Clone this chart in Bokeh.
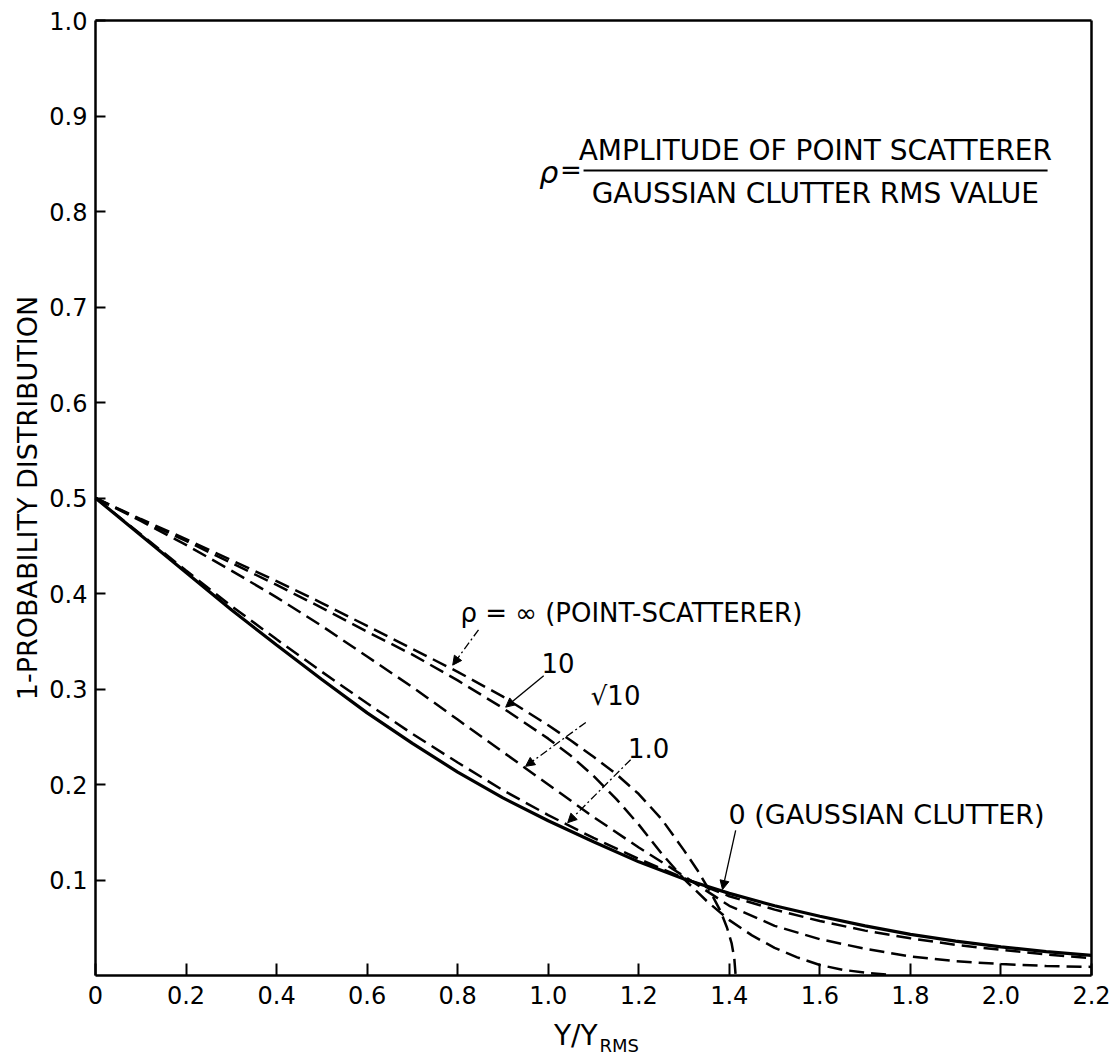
import math
from bokeh.plotting import figure
from bokeh.models import Range1d, FixedTicker, Label, Arrow, NormalHead, LinearAxis
from bokeh.embed import file_html
from bokeh.resources import INLINE

# ---- data ----
x_tick_vals = [0, 0.2, 0.4, 0.6, 0.8, 1.0, 1.2, 1.4, 1.6, 1.8, 2.0, 2.2]
x_tick_text = ["0", "0.2", "0.4", "0.6", "0.8", "1.0", "1.2", "1.4", "1.6", "1.8", "2.0", "2.2"]
y_tick_vals = [0.1, 0.2, 0.3, 0.4, 0.5, 0.6, 0.7, 0.8, 0.9, 1.0]
y_tick_text = ["0.1", "0.2", "0.3", "0.4", "0.5", "0.6", "0.7", "0.8", "0.9", "1.0"]

# rho = 0 (Gaussian clutter), solid
x_gauss = [0, 0.1, 0.2, 0.3, 0.4, 0.5, 0.6, 0.7, 0.8, 0.9, 1.0, 1.1, 1.2, 1.3, 1.4,
           1.5, 1.6, 1.7, 1.8, 1.9, 2.0, 2.1, 2.2]
y_gauss = [0.500, 0.461, 0.422, 0.383, 0.346, 0.310, 0.275, 0.243, 0.213, 0.186, 0.162,
           0.140, 0.119, 0.101, 0.086, 0.073, 0.062, 0.052, 0.043, 0.036, 0.030, 0.025, 0.021]

# rho = 1.0
x_rho1 = [0, 0.1, 0.2, 0.3, 0.4, 0.5, 0.6, 0.7, 0.8, 0.9, 1.0, 1.1, 1.2, 1.3, 1.4,
          1.5, 1.6, 1.7, 1.8, 1.9, 2.0, 2.1, 2.2]
y_rho1 = [0.500, 0.462, 0.424, 0.387, 0.352, 0.318, 0.285, 0.253, 0.223, 0.194, 0.168,
          0.144, 0.122, 0.102, 0.083, 0.069, 0.057, 0.047, 0.039, 0.032, 0.027, 0.022, 0.018]

# rho = sqrt(10)
x_rho_s10 = [0, 0.1, 0.2, 0.3, 0.4, 0.5, 0.6, 0.7, 0.8, 0.9, 1.0, 1.1, 1.2, 1.3, 1.4,
             1.5, 1.6, 1.7, 1.8, 1.9, 2.0, 2.1, 2.2]
y_rho_s10 = [0.500, 0.476, 0.451, 0.424, 0.396, 0.366, 0.334, 0.302, 0.268, 0.234, 0.200,
             0.166, 0.134, 0.104, 0.073, 0.052, 0.038, 0.028, 0.020, 0.015, 0.012, 0.010, 0.009]

# rho = 10
x_rho10 = [0, 0.1, 0.2, 0.3, 0.4, 0.5, 0.6, 0.7, 0.8, 0.9, 1.0, 1.05, 1.1, 1.15, 1.2,
           1.25, 1.3, 1.35, 1.4, 1.45, 1.5, 1.55, 1.6, 1.65, 1.7, 1.75]
y_rho10 = [0.500, 0.477, 0.455, 0.432, 0.409, 0.385, 0.360, 0.336, 0.309, 0.280, 0.248,
           0.230, 0.209, 0.185, 0.158, 0.128, 0.101, 0.078, 0.058, 0.042, 0.029, 0.019,
           0.011, 0.006, 0.003, 0.001]

# rho = infinity (point scatterer)
x_inf = [0, 0.1, 0.2, 0.3, 0.4, 0.5, 0.6, 0.7, 0.8, 0.9, 1.0, 1.05, 1.1, 1.15, 1.2, 1.25,
         1.3, 1.33, 1.36, 1.38, 1.395, 1.405, 1.411, 1.414]
y_inf = [0.500, 0.478, 0.457, 0.435, 0.413, 0.390, 0.366, 0.342, 0.318, 0.292, 0.262,
         0.246, 0.229, 0.211, 0.190, 0.164, 0.131, 0.110, 0.086, 0.068, 0.050, 0.034, 0.018, 0.0]

FONT = "DejaVu Sans"
W, H = 1117, 1057
# frame covers the whole canvas; plot box is px 95..1091 (x) and 975..20 (y)
PX_X = (1091 - 95) / 2.2
PX_Y = 955.0

p = figure(frame_width=W, frame_height=H, output_backend="svg", toolbar_location=None,
           x_range=Range1d(-95 / PX_X, (W - 95) / PX_X),
           y_range=Range1d(-(H - 975) / PX_Y, 975 / PX_Y),
           min_border_left=0, min_border_right=0, min_border_top=0, min_border_bottom=0,
           background_fill_color="white", border_fill_color="white")
p.xgrid.grid_line_color = None
p.ygrid.grid_line_color = None
p.outline_line_color = None

xa = p.xaxis[0]
ya = p.yaxis[0]
for ax in (xa, ya):
    ax.axis_line_width = 2.5
    ax.axis_line_color = "black"
    ax.major_tick_line_width = 2
    ax.major_tick_line_color = "black"
    ax.major_tick_out = 0
    ax.minor_tick_line_color = None
    ax.major_label_text_font = FONT
    ax.major_label_text_font_size = "24px"
    ax.major_label_text_color = "black"
    ax.fixed_location = 0

xa.bounds = (0, 2.2)
xa.ticker = FixedTicker(ticks=x_tick_vals)
xa.major_label_overrides = {v: t for v, t in zip(x_tick_vals, x_tick_text)}
xa.major_tick_in = 12
xa.major_label_standoff = 10

ya.bounds = (0, 1.0)
ya.ticker = FixedTicker(ticks=y_tick_vals)
ya.major_label_overrides = {v: t for v, t in zip(y_tick_vals, y_tick_text)}
ya.major_tick_in = 10
ya.major_label_standoff = 8

# frame lines on top and right as bare axes
for loc, side, bnds in ((2.2, "right", (0, 1.0)), (1.0, "above", (0, 2.2))):
    a = LinearAxis(fixed_location=loc, bounds=bnds, axis_line_width=2.5, axis_line_color="black",
                   major_tick_line_color=None, minor_tick_line_color=None,
                   major_label_text_font_size="0px", ticker=FixedTicker(ticks=[]))
    p.add_layout(a, side)

DASH = "15 7"
p.line(x_gauss, y_gauss, line_color="black", line_width=3.2)
p.line(x_rho1, y_rho1, line_color="black", line_width=2.5, line_dash=DASH)
p.line(x_rho_s10, y_rho_s10, line_color="black", line_width=2.5, line_dash=DASH)
p.line(x_rho10, y_rho10, line_color="black", line_width=2.5, line_dash=DASH)
p.line(x_inf, y_inf, line_color="black", line_width=2.5, line_dash=DASH)


def lab(x, y, t, size="26px", style="normal", align="left", baseline="middle", angle=0):
    p.add_layout(Label(x=x, y=y, text=t, text_font=FONT, text_font_size=size,
                       text_font_style=style, text_align=align, text_baseline=baseline,
                       text_color="black", angle=angle))


def leader(x0, y0, x1, y1, dash="solid"):
    p.add_layout(Arrow(end=NormalHead(size=9, fill_color="black", line_color="black"),
                       x_start=x0, y_start=y0, x_end=x1, y_end=y1,
                       line_color="black", line_width=1.3, line_dash=dash))


# curve labels
lab(0.806, 0.380, "\u03c1 = \u221e (POINT-SCATTERER)")
leader(0.846, 0.362, 0.789, 0.325, "8 3 2 3")
lab(0.985, 0.327, "10")
leader(0.990, 0.314, 0.906, 0.281)
lab(1.094, 0.293, "\u221a10")
leader(1.083, 0.265, 0.950, 0.219, "8 3 2 3")
lab(1.176, 0.238, "1.0")
leader(1.182, 0.226, 1.043, 0.160, "8 3 2 3")
lab(1.398, 0.169, "0 (GAUSSIAN CLUTTER)", size="27px")
leader(1.414, 0.152, 1.385, 0.090)

# definition of rho
lab(0.980, 0.841, "\u03c1", size="30px", style="italic")
lab(1.026, 0.843, "=", size="26px")
lab(1.590, 0.864, "AMPLITUDE OF POINT SCATTERER", size="28px", align="center")
lab(1.590, 0.819, "GAUSSIAN CLUTTER RMS VALUE", size="28px", align="center")
p.add_layout(Arrow(end=None, x_start=1.078, y_start=0.843, x_end=2.103, y_end=0.843,
                   line_color="black", line_width=2))

# axis titles
lab(1.109, -0.0625, "Y/Y", size="28px", align="right", baseline="alphabetic")
lab(1.113, -0.0735, "RMS", size="18px", align="left", baseline="alphabetic")
lab((27 - 95) / PX_X, 0.5, "1-PROBABILITY DISTRIBUTION", size="27px", align="center",
    baseline="middle", angle=math.pi / 2)

open("out.html", "w").write(file_html(p, INLINE))
